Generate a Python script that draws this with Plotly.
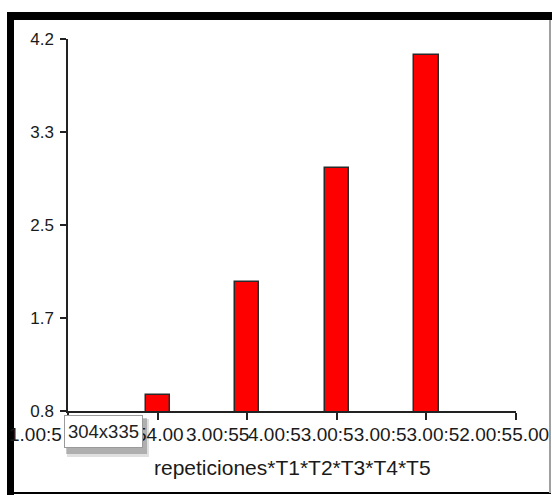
import plotly.graph_objects as go

# ---- data ----
categories = [1, 2, 3, 4]                     # bar positions on the x scale
values = [0.95, 1.98, 3.02, 4.05]             # bar heights
x_tick_vals = [0, 1, 2, 3, 4, 5]
y_tick_vals = [0.8, 1.65, 2.5, 3.35, 4.2]
y_tick_labels = ["0.8", "1.7", "2.5", "3.3", "4.2"]
x_label_fragments = ["1.00:5", "54.00", "3.00:55", "4.00:53.00:53.00:53.00:52.00:55.00"]
x_label_starts = [-0.66, 0.76, 1.32, 2.01]   # x-scale position where each visible fragment starts
x_title = "repeticiones*T1*T2*T3*T4*T5"
tooltip_text = "304x335"

# ---- layout geometry ----
W, H = 552, 495
L, R, T, B = 68, 36, 39, 84
PW, PH = W - L - R, H - T - B
X_MIN, X_MAX = 0, 5

def xp(px):
    return (px - L) / PW

def yp(py):
    return (H - B - py) / PH

FONT = "Liberation Sans, Arial, sans-serif"
TXT = "#1a1a1a"

fig = go.Figure()
fig.add_trace(go.Bar(
    x=categories, y=values, width=0.27,
    marker=dict(color="#ff0000", line=dict(color="#2a2a2a", width=1.5)),
    hoverinfo="skip",
))

annotations = []
for txt, xs in zip(x_label_fragments, x_label_starts):
    annotations.append(dict(
        x=(xs - X_MIN) / (X_MAX - X_MIN), xref="paper", y=yp(434), yref="paper",
        xanchor="left", yanchor="middle",
        text=txt, showarrow=False, font=dict(family=FONT, size=19, color=TXT),
        borderpad=0, borderwidth=0,
    ))
annotations.append(dict(
    x=0.5, xref="paper", y=yp(467), yref="paper", xanchor="center", yanchor="middle",
    text=x_title, showarrow=False, font=dict(family=FONT, size=21, color=TXT),
))
annotations.append(dict(
    x=xp(64), xref="paper", y=yp(415), yref="paper", xanchor="left", yanchor="top",
    text=tooltip_text, showarrow=False, font=dict(family=FONT, size=18.5, color="#222"),
    bgcolor="white", bordercolor="#9a9a9a", borderwidth=1, borderpad=0,
    width=77, height=31, align="center", valign="middle",
))

shapes = [
    # tooltip shadow
    dict(type="rect", xref="paper", yref="paper", x0=xp(67), x1=xp(149), y0=yp(457), y1=yp(419),
         fillcolor="rgba(0,0,0,0.12)", line=dict(width=0), layer="above"),
    dict(type="rect", xref="paper", yref="paper", x0=xp(66), x1=xp(147), y0=yp(454), y1=yp(418),
         fillcolor="rgba(0,0,0,0.22)", line=dict(width=0), layer="above"),
    # frame
    dict(type="rect", xref="paper", yref="paper", x0=xp(7), x1=xp(552), y0=yp(20), y1=yp(12),
         fillcolor="black", line=dict(width=0), layer="above"),
    dict(type="rect", xref="paper", yref="paper", x0=xp(7), x1=xp(14), y0=yp(495), y1=yp(12),
         fillcolor="black", line=dict(width=0), layer="above"),
    dict(type="rect", xref="paper", yref="paper", x0=xp(7), x1=xp(551), y0=yp(494), y1=yp(492),
         fillcolor="black", line=dict(width=0), layer="above"),
    dict(type="rect", xref="paper", yref="paper", x0=xp(549), x1=xp(551), y0=yp(493), y1=yp(20),
         fillcolor="#a0a0a0", line=dict(width=0), layer="above"),
]

fig.update_layout(
    width=W, height=H,
    margin=dict(l=L, r=R, t=T, b=B, pad=0),
    paper_bgcolor="white", plot_bgcolor="white",
    showlegend=False,
    font=dict(family=FONT, color=TXT),
    bargap=0,
    annotations=annotations,
    shapes=shapes,
    xaxis=dict(
        range=[X_MIN, X_MAX], tickmode="array", tickvals=x_tick_vals, showticklabels=False,
        ticks="outside", ticklen=7, tickwidth=1.5, tickcolor="#222",
        showline=True, linecolor="#222", linewidth=1.5,
        showgrid=False, zeroline=False, fixedrange=True,
    ),
    yaxis=dict(
        range=[0.8, 4.2], tickmode="array", tickvals=y_tick_vals, ticktext=y_tick_labels,
        ticks="outside", ticklen=6, tickwidth=1.5, tickcolor="#222",
        tickfont=dict(family=FONT, size=17, color=TXT), ticklabelstandoff=3,
        showline=True, linecolor="#222", linewidth=1.5,
        showgrid=False, zeroline=False, fixedrange=True,
    ),
)

fig.write_html(
    "out.html",
    config={"displayModeBar": False},
    post_script="document.body.style.margin='0';document.body.style.overflow='hidden';",
)
